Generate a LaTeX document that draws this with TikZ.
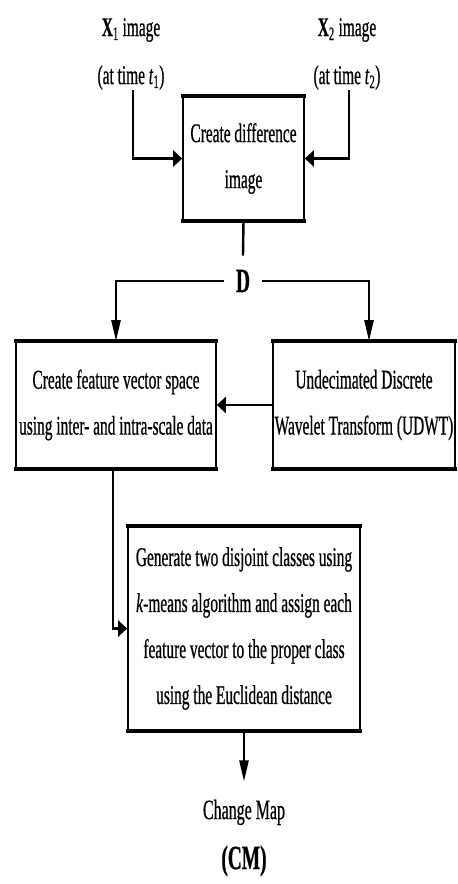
\documentclass[tikz,border=0pt]{standalone}
\usepackage{fontspec}
\setmainfont[FakeStretch=0.57, FakeBold=0.6]{Liberation Serif}
\usetikzlibrary{arrows.meta}

\tikzset{
  stepbox/.style={draw, line width=1.6pt, inner sep=0pt, align=center,
                  font=\fontsize{27}{46}\selectfont},
  inlabel/.style={inner sep=0pt, align=center, font=\fontsize{27}{48}\selectfont},
  wire/.style={line width=2.4pt},
  varr/.style={wire, -{Triangle[length=21pt,width=9pt]}},
  harr/.style={wire, -{Triangle[length=9pt,width=16pt]}},
  rim/.style={line width=4pt, line cap=butt, shorten <=-0.8pt, shorten >=-0.8pt},
}

\begin{document}
\begin{tikzpicture}[x=1pt,y=-1pt]
\useasboundingbox (0,0) rectangle (458,884);

% inputs
\node[inlabel] (x1) at (131,54) {\textbf{X}\textsubscript{1} image\\(at time \textit{t}\textsubscript{1})};
\node[inlabel] (x2) at (347,54) {\textbf{X}\textsubscript{2} image\\(at time \textit{t}\textsubscript{2})};

% processing steps
\node[stepbox, minimum width=121pt, minimum height=123pt] (diff) at (243.5,158.5)
  {Create difference\\image};
\node[font=\fontsize{34}{34}\selectfont\bfseries, inner xsep=12pt, inner ysep=14pt] (D) at (243,281) {D};
\node[stepbox, minimum width=200pt, minimum height=126pt] (feat) at (116,405)
  {Create feature vector space\\using inter- and intra-scale data};
\node[stepbox, minimum width=182pt, minimum height=126pt] (udwt) at (364,405)
  {Undecimated Discrete\\Wavelet Transform (UDWT)};
\node[stepbox, minimum width=232pt, minimum height=203pt] (gen) at (244,628.5)
  {Generate two disjoint classes using\\\textit{k}-means algorithm and assign each\\feature vector to the proper class\\using the Euclidean distance};

% output
\node[inner xsep=0pt, inner ysep=18pt, align=center, font=\fontsize{28}{50}\selectfont]
  (cm) at (244,838) {Change Map\\\fontsize{34}{50}\selectfont\textbf{(CM)}};

% heavy top and bottom rims of the boxes
\foreach \b in {diff,feat,udwt,gen} {
  \draw[rim] (\b.north west) -- (\b.north east);
  \draw[rim] (\b.south west) -- (\b.south east);
}

% connectors
\draw[harr] ([xshift=2pt]x1.south) |- (diff.west);
\draw[harr] ([xshift=2pt]x2.south) |- (diff.east);
\draw[wire] (diff.south) -- (D.north);
\draw[varr] (D.west) -| (feat.north);
\draw[varr] (D.east) -| ([xshift=5pt]udwt.north);
\draw[harr] (udwt.west) -- (feat.east);
\draw[harr] ([xshift=-3pt]feat.south) |- (gen.west);
\draw[varr] (gen.south) -- (cm.north);
\end{tikzpicture}
\end{document}
